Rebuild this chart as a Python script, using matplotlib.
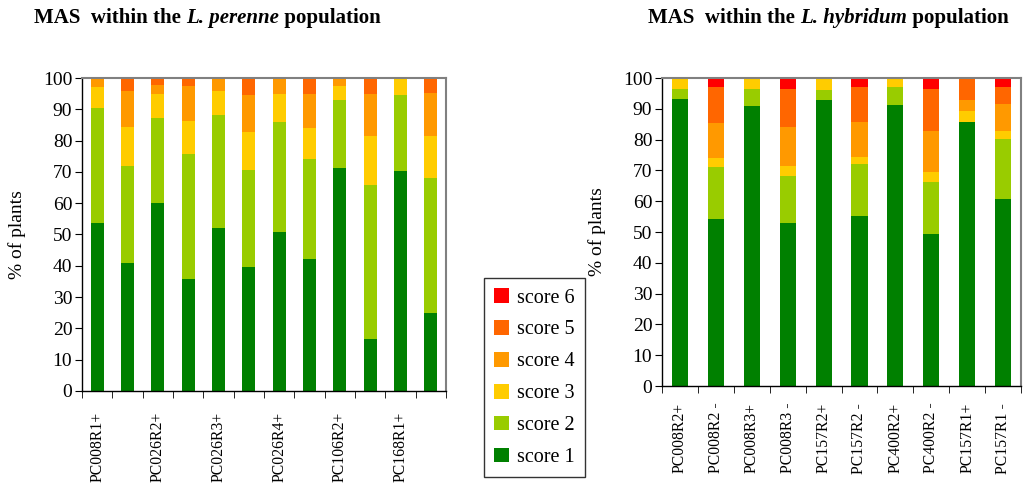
import matplotlib
matplotlib.use("Agg")
import matplotlib.pyplot as plt
from matplotlib.patches import Patch
import numpy as np

plt.rcParams['font.family'] = ['Liberation Serif', 'DejaVu Serif']

# Scores (share of plants, %) for each marker class
perenne_labels = ["PC008R1+", "", "PC026R2+", "", "PC026R3+", "",
                  "PC026R4+", "", "PC106R2+", "", "PC168R1+", ""]
perenne_s1 = [53.6, 40.8, 60.0, 35.7, 52.0, 39.5, 50.7, 42.1, 71.1, 16.5, 70.2, 24.8]
perenne_s2 = [36.7, 31.0, 27.1, 39.9, 36.1, 31.0, 35.1, 31.9, 21.8, 49.2, 24.3, 43.1]
perenne_s3 = [6.7, 12.4, 7.7, 10.6, 7.6, 12.1, 9.0, 9.9, 4.4, 15.7, 5.5, 13.5]
perenne_s4 = [3.0, 11.5, 2.9, 11.1, 4.3, 11.9, 5.2, 10.9, 2.7, 13.4, 0.0, 13.7]
perenne_s5 = [0.0, 4.3, 2.3, 2.7, 0.0, 5.5, 0.0, 5.2, 0.0, 5.2, 0.0, 4.9]
perenne_s6 = [0.0] * 12

hybridum_labels = ["PC008R2+", "PC008R2 -", "PC008R3+", "PC008R3 -", "PC157R2+",
                   "PC157R2 -", "PC400R2+", "PC400R2 -", "PC157R1+", "PC157R1 -"]
hybridum_s1 = [93.1, 54.2, 90.8, 52.9, 92.8, 55.1, 91.1, 49.3, 85.6, 60.6]
hybridum_s2 = [3.2, 16.8, 5.5, 15.2, 3.2, 16.9, 5.9, 16.9, 0.0, 19.5]
hybridum_s3 = [3.7, 2.9, 3.7, 3.3, 4.0, 2.3, 3.0, 3.2, 3.6, 2.6]
hybridum_s4 = [0.0, 11.4, 0.0, 12.6, 0.0, 11.3, 0.0, 13.3, 3.6, 8.8]
hybridum_s5 = [0.0, 11.7, 0.0, 12.3, 0.0, 11.4, 0.0, 13.6, 7.2, 5.5]
hybridum_s6 = [0.0, 3.0, 0.0, 3.7, 0.0, 3.0, 0.0, 3.7, 0.0, 3.0]

score_names = ["score 1", "score 2", "score 3", "score 4", "score 5", "score 6"]
score_colors = ["#008000", "#99cc00", "#ffcc00", "#ff9900", "#ff6600", "#ff0000"]

FS = 14

fig = plt.figure(figsize=(10.33, 4.83), dpi=100)
ax1 = fig.add_axes([0.0794, 0.1905, 0.3524, 0.648])
ax2 = fig.add_axes([0.6409, 0.2008, 0.3475, 0.6377])


def stacked(ax, labels, series, width, label_pad):
    x = np.arange(len(labels))
    bottom = np.zeros(len(labels))
    for vals, col in zip(series, score_colors):
        vals = np.asarray(vals, dtype=float)
        ax.bar(x, vals, width=width, bottom=bottom, color=col, linewidth=0)
        bottom += vals
    ax.set_xlim(-0.5, len(labels) - 0.5)
    ax.set_ylim(0, 100)
    ax.set_yticks(np.arange(0, 101, 10))
    ax.set_xticks(x)
    ax.set_xticklabels(labels, rotation=90, fontsize=11.3)
    ax.set_xticks(np.arange(-0.5, len(labels), 1.0), minor=True)
    ax.tick_params(axis='x', which='major', length=0, pad=label_pad)
    ax.tick_params(axis='x', which='minor', length=5, direction='out', color='black')
    ax.tick_params(axis='y', length=5, direction='out', labelsize=FS, pad=2)
    for side in ('top', 'right'):
        ax.spines[side].set_color('#808080')
        ax.spines[side].set_linewidth(1.5)
    for side in ('left', 'bottom'):
        ax.spines[side].set_color('black')
        ax.spines[side].set_linewidth(1.0)
    ax.set_ylabel("% of plants", fontsize=FS)


stacked(ax1, perenne_labels,
        [perenne_s1, perenne_s2, perenne_s3, perenne_s4, perenne_s5, perenne_s6], 0.43, 15)
stacked(ax2, hybridum_labels,
        [hybridum_s1, hybridum_s2, hybridum_s3, hybridum_s4, hybridum_s5, hybridum_s6], 0.45, 12)
ax1.yaxis.set_label_coords(-0.154, 0.5)
ax2.yaxis.set_label_coords(-0.156, 0.5)

# Legend (score 6 at the top)
handles = [Patch(facecolor=c, edgecolor='none') for c in score_colors][::-1]
leg = fig.legend(handles, score_names[::-1], loc='lower left',
                 bbox_to_anchor=(484 / 1033, 6 / 483), frameon=True, fancybox=False,
                 fontsize=14.5, handlelength=0.75, handleheight=0.75, handletextpad=0.4,
                 labelspacing=0.62, borderpad=0.5, borderaxespad=0)
leg.get_frame().set_edgecolor('black')
leg.get_frame().set_linewidth(1.0)


def title_pieces(xc, y, pieces):
    """Draw a title from (text, style) pieces, centered at figure x."""
    fig.canvas.draw()
    r = fig.canvas.get_renderer()
    objs = []
    for txt, style in pieces:
        t = fig.text(0, y, txt, fontsize=15, fontweight='bold', fontstyle=style,
                     va='center', ha='left')
        objs.append(t)
    widths = [t.get_window_extent(r).width for t in objs]
    total = sum(widths)
    x = xc * fig.bbox.width - total / 2
    for t, w in zip(objs, widths):
        t.set_x(x / fig.bbox.width)
        x += w


title_pieces(207 / 1033, 1 - 18 / 483,
             [("MAS  within the ", 'normal'), ("L. perenne", 'italic'), (" population", 'normal')])
title_pieces(828 / 1033, 1 - 18 / 483,
             [("MAS  within the ", 'normal'), ("L. hybridum", 'italic'), (" population", 'normal')])

fig.savefig("out.png", dpi=100)
